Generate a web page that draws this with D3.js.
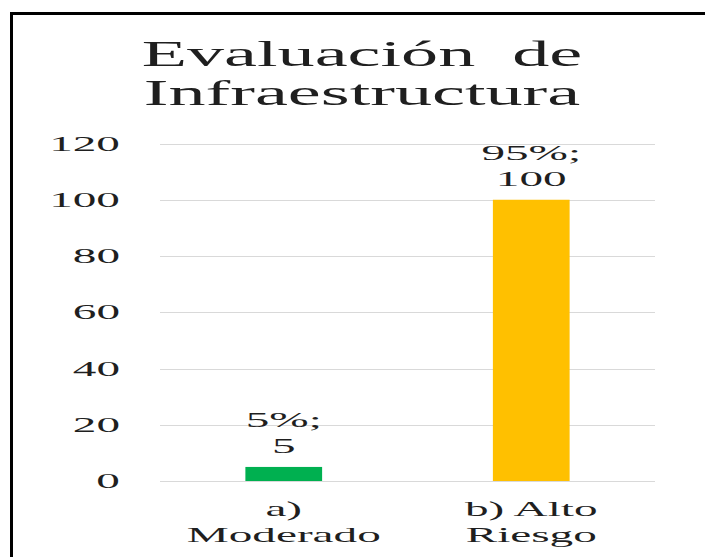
<!DOCTYPE html>
<html>
<head>
<meta charset="utf-8">
<script src="https://cdn.jsdelivr.net/npm/d3@7"></script>
<style>
  body { margin: 0; background: #fff; }
  text { font-family: "Liberation Serif", "Times New Roman", serif; fill: #1f1f1f; white-space: pre; }
</style>
</head>
<body>
<script>
// chart data
const categories = ['a) Moderado', 'b) Alto Riesgo'];
const categoryLines = [['a)', 'Moderado'], ['b) Alto', 'Riesgo']];
const values = [5, 100];
const percents = ['5%', '95%'];
const yTicks = [0, 20, 40, 60, 80, 100, 120];
const colors = ['#00b050', '#ffc000'];
const titleLines = ['Evaluación  de', 'Infraestructura'];

const width = 705;
const height = 557;

const svg = d3.select('body')
  .append('svg')
  .attr('width', width)
  .attr('height', height);

// outer frame
svg.append('rect')
  .attr('x', 11.5).attr('y', 13.5)
  .attr('width', 760).attr('height', 600)
  .attr('fill', 'none')
  .attr('stroke', '#000')
  .attr('stroke-width', 3);

const plotLeft = 160, plotRight = 655;

const xScale = d3.scaleBand()
  .domain(categories)
  .range([plotLeft, plotRight])
  .paddingInner(0.69)
  .paddingOuter(0.345);

const yScale = d3.scaleLinear()
  .domain([0, 120])
  .range([481, 143.5]);

// the picture is stretched sideways, so text gets a horizontal scale
function stext(x, y, str, size, sx, anchor) {
  return svg.append('text')
    .attr('transform', `translate(${x},${y}) scale(${sx},1)`)
    .attr('text-anchor', anchor || 'middle')
    .style('font-size', size + 'px')
    .text(str);
}

// title
titleLines.forEach((t, i) => stext(362, 66 + i * 39, t, 36, 2.06));

// gridlines
svg.append('g')
  .selectAll('line')
  .data(yTicks)
  .join('line')
  .attr('x1', plotLeft).attr('x2', plotRight)
  .attr('y1', d => Math.round(yScale(d)) + 0.5)
  .attr('y2', d => Math.round(yScale(d)) + 0.5)
  .attr('stroke', '#d9d9d9')
  .attr('stroke-width', 1);

// y tick labels
yTicks.forEach(d => stext(120, yScale(d) + 7, String(d), 21, 2.25, 'end'));

// bars
svg.append('g')
  .selectAll('rect')
  .data(values)
  .join('rect')
  .attr('x', (d, i) => xScale(categories[i]))
  .attr('y', d => yScale(d))
  .attr('width', xScale.bandwidth())
  .attr('height', d => yScale(0) - yScale(d))
  .attr('fill', (d, i) => colors[i]);

// data labels
values.forEach((v, i) => {
  const cx = xScale(categories[i]) + xScale.bandwidth() / 2;
  const top = yScale(v);
  stext(cx, top - 40, percents[i] + ';', 21, 2.25);
  stext(cx, top - 14, String(v), 21, 2.25);
});

// category labels
categoryLines.forEach((lines, i) => {
  const cx = xScale(categories[i]) + xScale.bandwidth() / 2;
  lines.forEach((l, j) => stext(cx, 516 + j * 26, l, 21, 2.25));
});
</script>
</body>
</html>
